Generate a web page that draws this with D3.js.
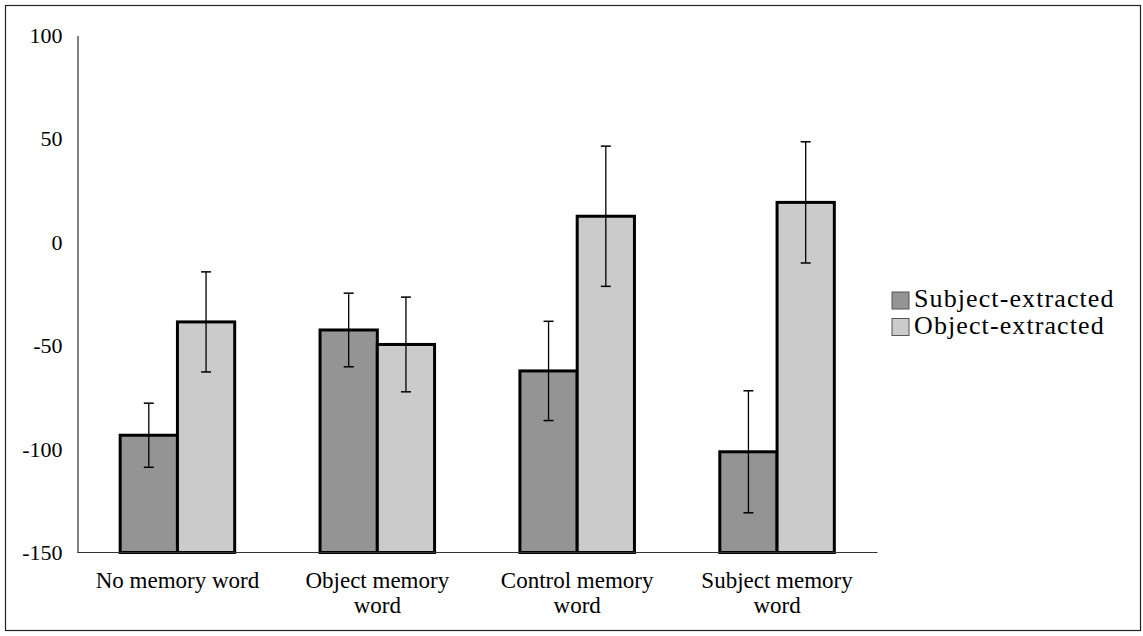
<!DOCTYPE html>
<html>
<head>
    <meta charset="utf-8">
    <title>Memory word bar chart</title>
    <script src="https://d3js.org/d3.v7.min.js"></script>
    <style>
        body { margin: 0; background-color: white; }
    </style>
</head>
<body>
<script>
    // chart data
    const categories = [["No memory word"], ["Object memory", "word"], ["Control memory", "word"], ["Subject memory", "word"]];
    const seriesNames = ["Subject-extracted", "Object-extracted"];
    const subjectValues = [-93.3, -42.4, -62.2, -101.3];
    const subjectErrors = [15.5, 17.8, 24, 29.5];
    const objectValues = [-38.5, -49.4, 12.6, 19.3];
    const objectErrors = [24.2, 22.9, 33.9, 29.3];
    const yTicks = [100, 50, 0, -50, -100, -150];

    const seriesColors = ["#949494", "#cbcbcb"];
    const serif = "'Liberation Serif', 'Times New Roman', serif";

    const width = 1143, height = 636;
    const margin = {top: 35.5, right: 266, bottom: 83.5, left: 77.5};

    const svg = d3.select("body").append("svg")
        .attr("width", width)
        .attr("height", height);

    // outer frame
    svg.append("rect")
        .attr("x", 5.5).attr("y", 5.5)
        .attr("width", 1135).attr("height", 625)
        .attr("fill", "none")
        .attr("stroke", "#222")
        .attr("stroke-width", 1.2);

    const x0 = d3.scaleBand()
        .domain(d3.range(categories.length))
        .range([margin.left, width - margin.right])
        .paddingInner(0.427)
        .paddingOuter(0.2135);

    const x1 = d3.scaleBand()
        .domain([0, 1])
        .range([0, x0.bandwidth()]);

    const y = d3.scaleLinear()
        .domain([-150, 100])
        .range([height - margin.bottom, margin.top]);

    // y axis
    const yAxis = svg.append("g")
        .attr("transform", "translate(" + margin.left + ",0)")
        .call(d3.axisLeft(y).tickValues(yTicks).tickSize(0).tickPadding(15).tickFormat(d => String(d)));
    yAxis.select(".domain").attr("stroke", "black").attr("stroke-width", 1);
    yAxis.selectAll("text")
        .style("font-family", serif)
        .style("font-size", "22px")
        .attr("fill", "black");

    // bars
    const series = [
        {values: subjectValues, errors: subjectErrors},
        {values: objectValues, errors: objectErrors}
    ];

    series.forEach(function (s, si) {
        const g = svg.append("g");
        g.selectAll("rect")
            .data(s.values)
            .enter()
            .append("rect")
            .attr("x", (d, i) => x0(i) + x1(si))
            .attr("width", x1.bandwidth())
            .attr("y", d => y(d))
            .attr("height", d => y(-150) - y(d))
            .attr("fill", seriesColors[si])
            .attr("stroke", "black")
            .attr("stroke-width", 3);
    });

    // x axis line (drawn over bar bottoms)
    svg.append("line")
        .attr("x1", margin.left).attr("x2", width - margin.right + 0.5)
        .attr("y1", y(-150)).attr("y2", y(-150))
        .attr("stroke", "#333")
        .attr("stroke-width", 1);

    // error bars
    series.forEach(function (s, si) {
        const g = svg.append("g");
        s.values.forEach(function (v, i) {
            const cx = x0(i) + x1(si) + x1.bandwidth() / 2;
            const e = s.errors[i];
            g.append("line")
                .attr("x1", cx).attr("x2", cx)
                .attr("y1", y(v + e)).attr("y2", y(v - e))
                .attr("stroke", "black").attr("stroke-width", 1.3);
            [v + e, v - e].forEach(function (t) {
                g.append("line")
                    .attr("x1", cx - 5).attr("x2", cx + 5)
                    .attr("y1", y(t)).attr("y2", y(t))
                    .attr("stroke", "black").attr("stroke-width", 1.5);
            });
        });
    });

    // category labels
    categories.forEach(function (lines, i) {
        const t = svg.append("text")
            .attr("text-anchor", "middle")
            .style("font-family", serif)
            .style("font-size", "23px")
            .attr("fill", "black");
        lines.forEach(function (line, li) {
            t.append("tspan")
                .attr("x", x0(i) + x0.bandwidth() / 2)
                .attr("y", 588 + li * 25)
                .text(line);
        });
    });

    // legend
    const legend = svg.append("g");
    seriesNames.forEach(function (name, i) {
        legend.append("rect")
            .attr("x", 892).attr("y", 292 + i * 26.5)
            .attr("width", 17).attr("height", 17)
            .attr("fill", seriesColors[i])
            .attr("stroke", "#555")
            .attr("stroke-width", 1);
        legend.append("text")
            .attr("x", 914).attr("y", 307 + i * 26.5)
            .style("font-family", serif)
            .style("font-size", "26px")
            .style("letter-spacing", "1.1px")
            .attr("fill", "black")
            .text(name);
    });
</script>
</body>
</html>
